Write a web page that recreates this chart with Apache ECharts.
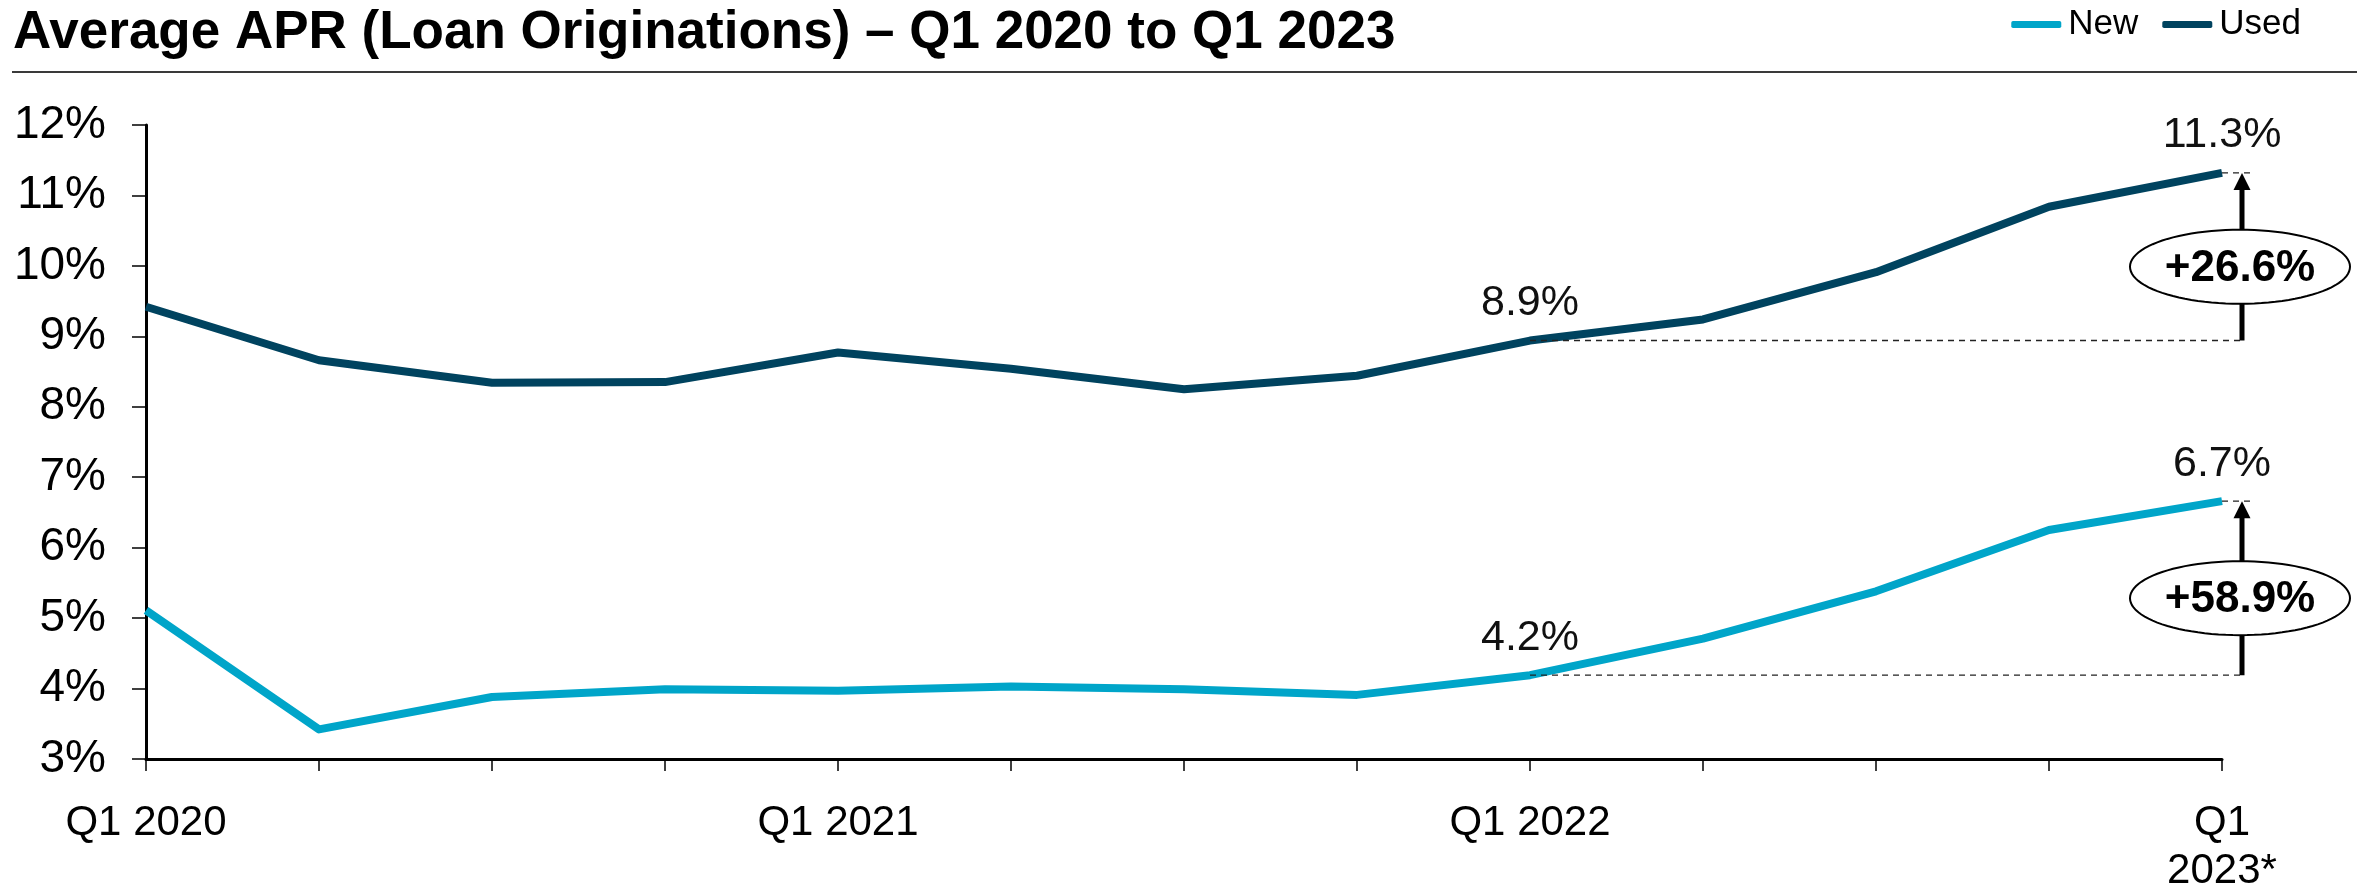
<!DOCTYPE html>
<html>
<head>
<meta charset="utf-8">
<title>Average APR (Loan Originations)</title>
<script src="https://cdn.jsdelivr.net/npm/echarts@6/dist/echarts.min.js"></script>
<style>
  html, body { margin: 0; padding: 0; background: #ffffff; }
  #chart { width: 2364px; height: 895px; }
</style>
</head>
<body>
<div id="chart"></div>
<script>
// Quarterly categories, Q1 2020 through Q1 2023
const quarters = ['Q1 2020', 'Q2 2020', 'Q3 2020', 'Q4 2020',
                  'Q1 2021', 'Q2 2021', 'Q3 2021', 'Q4 2021',
                  'Q1 2022', 'Q2 2022', 'Q3 2022', 'Q4 2022',
                  'Q1 2023*'];

// Tick labels shown under the x axis (by category index)
const tickLabels = { 0: 'Q1 2020', 4: 'Q1 2021', 8: 'Q1 2022', 12: 'Q1\n2023*' };

// Average APR (%) by quarter
const newApr  = [5.11, 3.42, 3.88, 3.99, 3.97, 4.03, 3.99, 3.91, 4.19, 4.71, 5.38, 6.25, 6.66];
const usedApr = [9.42, 8.66, 8.34, 8.35, 8.77, 8.54, 8.25, 8.44, 8.94, 9.24, 9.91, 10.84, 11.32];

// Points whose value is printed, and the change shown beside the last point
const labelledIdx = [8, 12];
const changeFrom = 8, changeTo = 12;

// Y axis range (percent)
const yMin = 3, yMax = 12, yStep = 1;

const FONT = '"Liberation Sans", Arial, Helvetica, sans-serif';
const NEW_COLOR = '#00A5C9';
const USED_COLOR = '#00435F';

function changeText(arr) {
  const pct = (arr[changeTo] / arr[changeFrom] - 1) * 100;
  return '+' + pct.toFixed(1) + '%';
}

// Annotation rows: [fromIndex, toIndex, fromValue, toValue, label]
const changeRows = [
  [changeFrom, changeTo, usedApr[changeFrom], usedApr[changeTo], changeText(usedApr)],
  [changeFrom, changeTo, newApr[changeFrom], newApr[changeTo], changeText(newApr)]
];

function ellipsePoints(cx, cy, rx, ry) {
  const pts = [];
  for (let i = 0; i < 96; i++) {
    const t = (i / 96) * Math.PI * 2;
    pts.push([cx + rx * Math.cos(t), cy + ry * Math.sin(t)]);
  }
  return pts;
}

function renderChange(params, api) {
  const p0 = api.coord([api.value(0), api.value(2)]);
  const p1 = api.coord([api.value(1), api.value(3)]);
  const label = changeRows[params.dataIndex][4];
  const ax = p1[0] + 20;          // arrow column
  const headH = 17, headW = 17;
  const cy = (p0[1] + p1[1]) / 2 + 10;
  const dash = { stroke: '#222', lineWidth: 1.4, lineDash: [6, 5] };
  return {
    type: 'group',
    children: [
      { type: 'line', shape: { x1: p0[0], y1: p0[1], x2: ax + 2, y2: p0[1] }, style: dash },
      { type: 'line', shape: { x1: p1[0], y1: p1[1], x2: ax + 8, y2: p1[1] }, style: dash },
      { type: 'line', shape: { x1: ax, y1: p0[1], x2: ax, y2: p1[1] + headH - 1 },
        style: { stroke: '#000', lineWidth: 5 } },
      { type: 'polygon',
        shape: { points: [[ax, p1[1]], [ax - headW / 2, p1[1] + headH], [ax + headW / 2, p1[1] + headH]] },
        style: { fill: '#000' } },
      { type: 'polygon', shape: { points: ellipsePoints(ax - 2, cy, 110, 37) },
        style: { fill: '#fff', stroke: '#000', lineWidth: 2 } },
      { type: 'text',
        style: { x: ax - 2, y: cy + 2, text: label, align: 'center', verticalAlign: 'middle',
                 font: 'bold 44px ' + FONT, fill: '#000' } }
    ]
  };
}

const chart = echarts.init(document.getElementById('chart'), null, { renderer: 'canvas' });

function lineSeries(name, data, color) {
  return {
    name: name,
    type: 'line',
    data: data,
    symbol: 'circle',
    symbolSize: 0.01,
    showSymbol: true,
    showAllSymbol: true,
    lineStyle: { color: color, width: 8, cap: 'butt', join: 'round' },
    itemStyle: { color: color },
    label: {
      show: true,
      position: 'top',
      distance: 16,
      fontFamily: FONT,
      fontSize: 43,
      color: '#111',
      formatter: p => labelledIdx.includes(p.dataIndex) ? p.value.toFixed(1) + '%' : ''
    },
    labelLayout: { hideOverlap: false },
    emphasis: { disabled: true },
    z: 3
  };
}

chart.setOption({
  animation: false,
  backgroundColor: '#ffffff',
  title: {
    text: 'Average APR (Loan Originations) – Q1 2020 to Q1 2023',
    left: 8,
    top: 2,
    textStyle: { fontFamily: FONT, fontSize: 53, fontWeight: 'bold', color: '#000' }
  },
  legend: {
    data: ['New', 'Used'],
    right: 58,
    top: 2,
    icon: 'roundRect',
    itemWidth: 50,
    itemHeight: 7,
    itemGap: 24,
    textStyle: { fontFamily: FONT, fontSize: 35, color: '#000', padding: [0, 0, 0, 2] },
    selectedMode: false
  },
  graphic: [{
    type: 'line',
    shape: { x1: 12, y1: 72, x2: 2357, y2: 72 },
    style: { stroke: '#3a3a3a', lineWidth: 2 }
  }],
  grid: { left: 146, right: 142, top: 125, bottom: 124, containLabel: false },
  xAxis: {
    type: 'category',
    data: quarters,
    boundaryGap: false,
    axisLine: { lineStyle: { color: '#000', width: 3 } },
    axisTick: { show: true, interval: 0, length: 12, lineStyle: { color: '#000', width: 1.5 } },
    axisLabel: {
      interval: 0,
      margin: 40,
      fontFamily: FONT,
      fontSize: 42,
      lineHeight: 48,
      color: '#000',
      formatter: (v, i) => tickLabels[i] || ''
    },
    splitLine: { show: false }
  },
  yAxis: {
    type: 'value',
    min: yMin,
    max: yMax,
    interval: yStep,
    axisLine: { show: true, lineStyle: { color: '#000', width: 3 } },
    axisTick: { show: true, length: 14, lineStyle: { color: '#000', width: 1.5 } },
    axisLabel: {
      margin: 40,
      fontFamily: FONT,
      fontSize: 46,
      color: '#000',
      formatter: v => v + '%'
    },
    splitLine: { show: false }
  },
  series: [
    lineSeries('New', newApr, NEW_COLOR),
    lineSeries('Used', usedApr, USED_COLOR),
    {
      type: 'custom',
      coordinateSystem: 'cartesian2d',
      data: changeRows.map(r => r.slice(0, 4)),
      renderItem: renderChange,
      clip: false,
      silent: true,
      z: 5
    }
  ]
});
</script>
</body>
</html>
